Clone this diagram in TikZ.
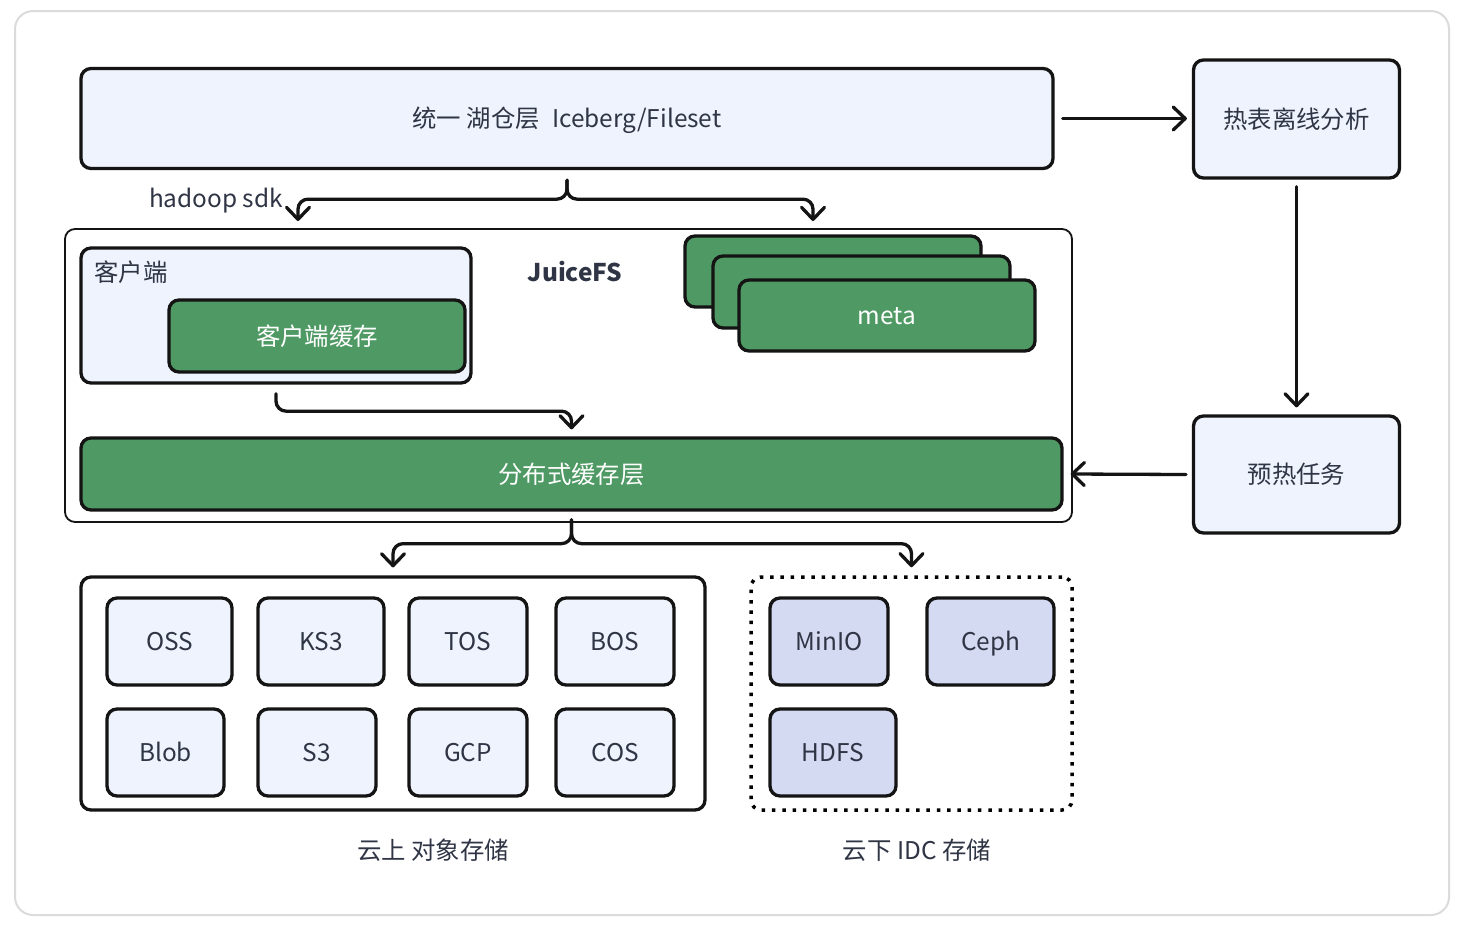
\documentclass[tikz,border=0pt]{standalone}
\usepackage{fontspec}
\setmainfont{Noto Sans CJK SC}
\usetikzlibrary{arrows.meta}
\definecolor{paleblue}{HTML}{EEF3FD}
\definecolor{lavender}{HTML}{D3DAF2}
\definecolor{cachegreen}{HTML}{4F9A64}
\definecolor{inkgray}{HTML}{2F3545}
\tikzset{
	wh/.style 2 args={minimum width=#1*0.5pt, minimum height=#2*0.5pt, inner sep=0pt},
	label text/.style={text height=11.4pt, text depth=2pt, font=\fontsize{12.2}{14}\selectfont},
	box/.style={draw=black!92, line width=1.65pt, rounded corners=5pt, text=inkgray, label text},
	palebox/.style={box, fill=paleblue},
	greenbox/.style={box, fill=cachegreen, text=white},
	storebox/.style={box, fill=paleblue},
	localbox/.style={box, fill=lavender},
	caption/.style={text=inkgray, label text, inner sep=0pt},
	flow/.style={line width=1.65pt, line cap=round, rounded corners=5pt, draw=black!92, -{Straight Barb[round, length=6pt, width=11.5pt]}}
}
\begin{document}
\begin{tikzpicture}[x=0.5pt, y=-0.5pt]
	\useasboundingbox (0,0) rectangle (1466,932);
	\node[wh={1434}{904}, draw=black!14, line width=1pt, rounded corners=9pt, fill=white] (page) at (732,463) {};
	% top row
	\node[palebox, wh={972}{100}] (lake) at (567,118.5) {统一 湖仓层\hspace{6pt}Iceberg/Fileset};
	\node[palebox, wh={206}{118}] (hot) at (1296.5,119) {热表离线分析};
	\node[palebox, wh={206}{117}] (warmup) at (1296.5,474.5) {预热任务};
	% JuiceFS
	\node[wh={1007}{293}, draw=black!92, line width=0.9pt, rounded corners=5pt] (juicefs) at (568.5,375.5) {};
	\node[caption, font=\fontsize{12.2}{14}\selectfont\bfseries] (juicename) at (575,272) {JuiceFS};
	\node[palebox, wh={390}{135}] (client) at (276,315.5) {};
	\node[caption] (clientname) at (131,272) {客户端};
	\node[greenbox, wh={296}{72}] (clientcache) at (317,336) {客户端缓存};
	\node[greenbox, wh={296}{71}] (metaa) at (833,271.5) {};
	\node[greenbox, wh={297}{72}] (metab) at (861.5,292) {};
	\node[greenbox, wh={296}{71}] (meta) at (887,315.5) {meta};
	\node[greenbox, wh={981}{72}] (dist) at (571.5,474) {分布式缓存层};
	% cloud storage
	\node[wh={624}{233}, draw=black!92, line width=1.65pt, rounded corners=5pt] (cloud) at (393,693.5) {};
	\node[storebox, wh={125}{87}] (oss) at (169.5,641.5) {OSS};
	\node[storebox, wh={126}{87}] (ks) at (321,641.5) {KS3};
	\node[storebox, wh={118}{87}] (tos) at (468,641.5) {TOS};
	\node[storebox, wh={118}{87}] (bos) at (615,641.5) {BOS};
	\node[storebox, wh={117}{87}] (blob) at (165.5,752.5) {Blob};
	\node[storebox, wh={118}{87}] (s) at (317,752.5) {S3};
	\node[storebox, wh={118}{87}] (gcp) at (468,752.5) {GCP};
	\node[storebox, wh={118}{87}] (cos) at (615,752.5) {COS};
	\node[caption] (cloudname) at (433,850) {云上 对象存储};
	% IDC storage
	\node[wh={321}{233}, draw=black, line width=1.75pt, dash pattern=on 1.75pt off 3.4pt, rounded corners=5pt] (idc) at (911.5,693.5) {};
	\node[localbox, wh={118}{87}] (minio) at (829,641.5) {MinIO};
	\node[localbox, wh={127}{87}] (ceph) at (990.5,641.5) {Ceph};
	\node[localbox, wh={126}{87}] (hdfs) at (833,752.5) {HDFS};
	\node[caption] (idcname) at (917,850) {云下 IDC 存储};
	\node[caption] (sdkname) at (216,198) {hadoop sdk};
	% connectors
	\coordinate (tosdk) at (298,221);
	\coordinate (tometa) at (813,221);
	\draw[flow] ([xshift=4pt]lake.east) -- ([xshift=-2.5pt]hot.west |- lake.east);
	\draw[flow] ([yshift=-3.5pt]hot.south) -- ([yshift=3.5pt]warmup.north);
	\draw[flow] ([xshift=-3pt]warmup.west) -- ([xshift=3.5pt]dist.east);
	\draw[flow] ([yshift=-5pt]lake.south) -- ++(0,19) -| (tosdk);
	\draw[flow] ([yshift=-5pt]lake.south) -- ++(0,19) -| (tometa);
	\draw[flow] ([yshift=-4.5pt]client.south) -- ++(0,17.5) -| ([yshift=3.5pt]dist.north);
	\draw[flow] ([yshift=-4pt]dist.south) -- ++(0,24) -| ([yshift=4pt]cloud.north);
	\draw[flow] ([yshift=-4pt]dist.south) -- ++(0,24) -| ([yshift=4pt]idc.north);
\end{tikzpicture}
\end{document}
